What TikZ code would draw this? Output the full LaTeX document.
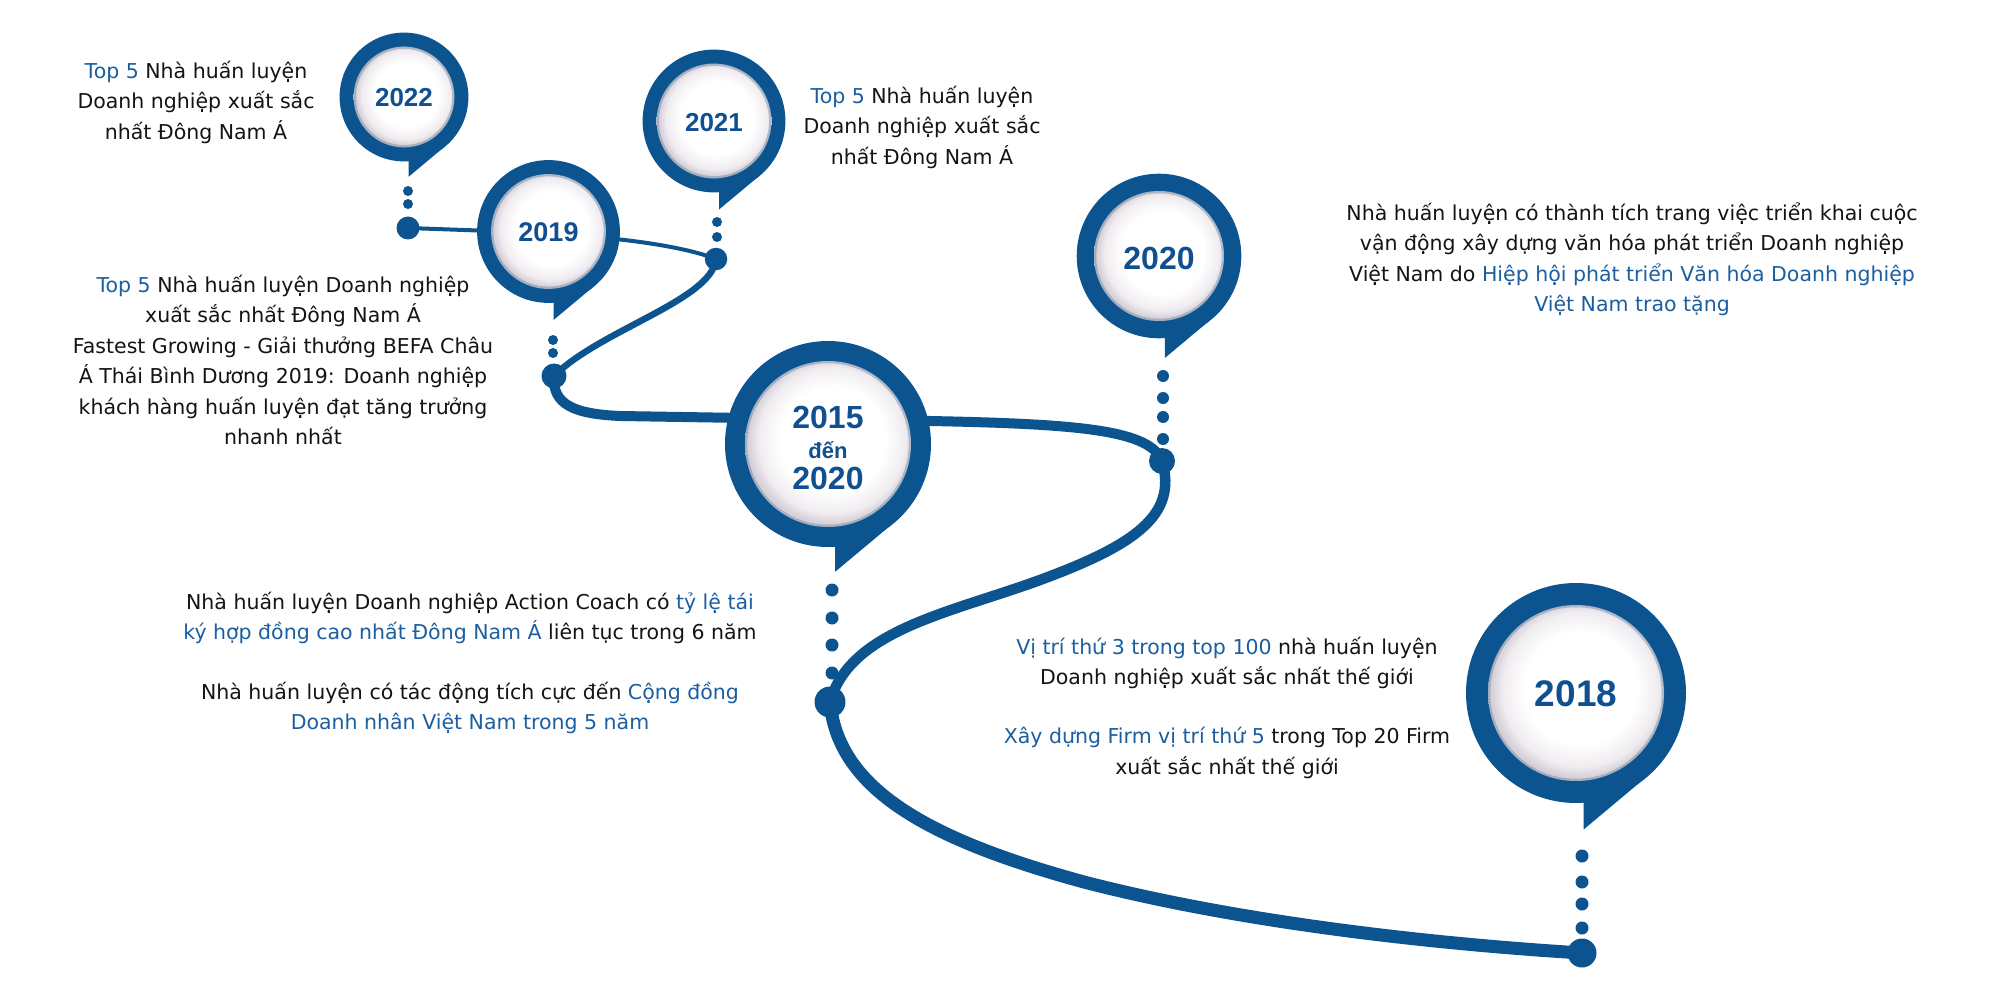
\documentclass[tikz,border=0pt]{standalone}
\usepackage{fontspec}
\setmainfont{DejaVu Sans}
\newfontfamily\yearfont{Liberation Sans}
\definecolor{pinblue}{RGB}{11,84,143}
\definecolor{yearblue}{RGB}{16,80,145}
\definecolor{tblue}{RGB}{27,95,160}
\definecolor{tblack}{RGB}{20,20,20}
\definecolor{pingray}{RGB}{240,236,240}
\definecolor{pingrayd}{RGB}{214,208,216}
\pgfdeclareradialshading{pinshade}{\pgfpoint{2bp}{2bp}}{color(0bp)=(white); color(16bp)=(white); color(22bp)=(pingray); color(25bp)=(pingrayd); color(50bp)=(pingrayd)}
% pin: cx, cy, r outer, r inner
\newcommand\pinshape[4]{%
  \fill[pinblue] ({#1+0.07*#3},{#2+1.24*#3}) -- ({#1+0.07*#3},{#2+0.9*#3}) -- ({#1+0.62*#3},{#2+0.78*#3}) -- cycle;
  \fill[pinblue] (#1,#2) circle[radius=#3pt];
  \shade[shading=pinshade] (#1,#2) circle[radius=#4pt];
  \draw[pinblue!70!gray, opacity=0.3, line width=2.5pt] (#1,#2) circle[radius={#4pt-1pt}];
}
\newcommand\sdot[3]{\fill[pinblue] (#1,#2) circle[radius=#3pt];}
\begin{document}
\begin{tikzpicture}[x=1pt,y=-1pt,
  dotnode/.style={circle, fill=pinblue, inner sep=0pt, minimum size=#1},
  road/.style={draw=pinblue, line cap=round, line join=round},
  body/.style={align=center, text=tblack, inner sep=0pt, font=\fontsize{20.5}{30.5}\selectfont},
  yr/.style={anchor=base, inner sep=0pt, text=yearblue, font=\yearfont\bfseries\fontsize{#1}{#1}\selectfont}]
\useasboundingbox (0,0) rectangle (2000,1000);
\fill[white] (0,0) rectangle (2000,1000);

% node dots
\node[dotnode=23pt] (d2022) at (408,228) {};
\node[dotnode=25pt] (d2019) at (554,376) {};
\node[dotnode=22.5pt] (d2021) at (716,259) {};
\node[dotnode=26pt] (d2020) at (1162,461) {};
\node[dotnode=31pt] (d2015) at (830,702) {};
\node[dotnode=29pt] (d2018) at (1582,953) {};

% connectors
\draw[road, line width=4pt] (d2022.center) -- (520,232) .. controls (610,236) and (680,245) .. (d2021.center);
\draw[road, line width=6.5pt] (d2021.center) .. controls (712,300) and (600,330) .. (d2019.center);
\draw[road, line width=10pt] (d2019.center) .. controls (552,405) and (575,414) .. (620,416) -- (930,421) .. controls (1080,424) and (1150,430) .. (d2020.center);
\draw[road, line width=10.5pt] (d2020.center) .. controls (1178,515) and (1135,545) .. (1040,580) .. controls (950,613) and (850,630) .. (d2015.center);
\draw[road, line width=13pt] (d2015.center) .. controls (838,790) and (930,840) .. (1084,882) .. controls (1250,925) and (1450,945) .. (d2018.center);

% pins
\pinshape{404}{97}{64.4}{50.4}
\pinshape{548.5}{231.5}{71.4}{57.4}
\pinshape{714}{121}{71.4}{57.4}
\pinshape{1159}{256}{82.3}{65}
\pinshape{828}{444}{103}{83}
\pinshape{1576}{693}{110}{88}

\node[yr=26] (y2022) at (404,106.3) {2022};
\node[yr=27] (y2019) at (548.5,241.7) {2019};
\node[yr=26] (y2021) at (714,131.3) {2021};
\node[yr=32] (y2020) at (1159,269.5) {2020};
\node[yr=32] (y2015a) at (828,428.5) {2015};
\node[yr=22] (y2015b) at (828,458) {đến};
\node[yr=32] (y2015c) at (828,489.5) {2020};
\node[yr=37] (y2018) at (1576,706.2) {2018};

% small dots
\sdot{408}{191}{5}\sdot{408}{204}{5}
\sdot{553}{340}{5}\sdot{553}{353}{5}
\sdot{717}{222}{5}\sdot{717}{237}{5}
\sdot{1163}{376}{6}\sdot{1163}{398}{6}\sdot{1163}{417}{6}\sdot{1163}{439}{6}
\sdot{832}{590}{6.5}\sdot{832}{618}{6.5}\sdot{832}{645}{6.5}\sdot{832}{673}{6.5}
\sdot{1582}{856}{6.5}\sdot{1582}{882}{6.5}\sdot{1582}{904}{6.5}\sdot{1582}{928}{6.5}

% texts
\node[body] (t2022) at (196,102) {\textcolor{tblue}{Top 5} Nhà huấn luyện\\Doanh nghiệp xuất sắc\\nhất Đông Nam Á};
\node[body] (t2021) at (922,127) {\textcolor{tblue}{Top 5} Nhà huấn luyện\\Doanh nghiệp xuất sắc\\nhất Đông Nam Á};
\node[body] (t2019) at (283,360) {\textcolor{tblue}{Top 5} Nhà huấn luyện Doanh nghiệp\\xuất sắc nhất Đông Nam Á\\Fastest Growing - Giải thưởng BEFA Châu\\Á Thái Bình Dương 2019: Doanh nghiệp\\khách hàng huấn luyện đạt tăng trưởng\\nhanh nhất};
\node[body] (t2020) at (1632,259.5) {Nhà huấn luyện có thành tích trang việc triển khai cuộc\\vận động xây dựng văn hóa phát triển Doanh nghiệp\\Việt Nam do \textcolor{tblue}{Hiệp hội phát triển Văn hóa Doanh nghiệp}\\\textcolor{tblue}{Việt Nam trao tặng}};
\node[body] (t2015a) at (470,618) {Nhà huấn luyện Doanh nghiệp Action Coach có \textcolor{tblue}{tỷ lệ tái}\\\textcolor{tblue}{ký hợp đồng cao nhất Đông Nam Á} liên tục trong 6 năm};
\node[body] (t2015b) at (470,708) {Nhà huấn luyện có tác động tích cực đến \textcolor{tblue}{Cộng đồng}\\\textcolor{tblue}{Doanh nhân Việt Nam trong 5 năm}};
\node[body] (t2018a) at (1227,663) {\textcolor{tblue}{Vị trí thứ 3 trong top 100} nhà huấn luyện\\Doanh nghiệp xuất sắc nhất thế giới};
\node[body] (t2018b) at (1227,753) {\textcolor{tblue}{Xây dựng Firm vị trí thứ 5} trong Top 20 Firm\\xuất sắc nhất thế giới};
\end{tikzpicture}
\end{document}
